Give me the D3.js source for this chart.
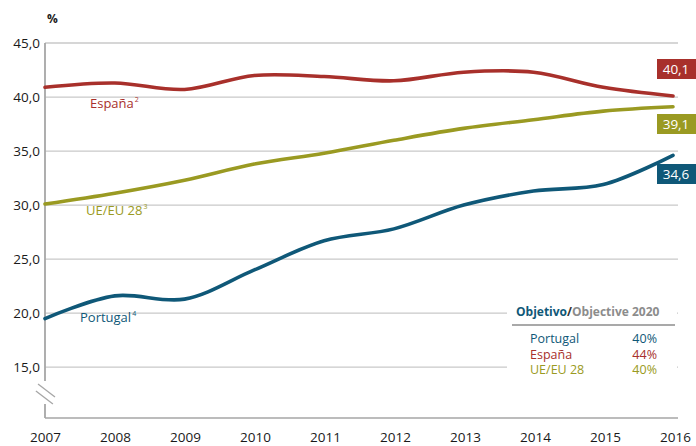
<!DOCTYPE html>
<html>
<head>
<meta charset="utf-8">
<script src="https://cdn.jsdelivr.net/npm/d3@7"></script>
<style>
  body { margin: 0; background: #fff; }
  svg { font-family: "Open Sans", sans-serif; }
</style>
</head>
<body>
<div class="chart"></div>
<script>
const years = [2007, 2008, 2009, 2010, 2011, 2012, 2013, 2014, 2015, 2016];
const portugal = [19.5, 21.6, 21.3, 24.0, 26.7, 27.8, 30.0, 31.3, 31.9, 34.6];
const espana = [40.9, 41.3, 40.7, 42.0, 41.9, 41.5, 42.3, 42.3, 40.9, 40.1];
const eu28 = [30.1, 31.1, 32.3, 33.8, 34.8, 36.0, 37.1, 37.9, 38.7, 39.1];
const yTicks = [15, 20, 25, 30, 35, 40, 45];
const targetNames = ["Portugal", "España", "UE/EU 28"];
const targetValues = ["40%", "44%", "40%"];

const width = 696, height = 446;
const colors = {pt: "#0f5878", es: "#a8302b", eu: "#9a9a22"};

const svg = d3.select(".chart").append("svg")
  .attr("width", width)
  .attr("height", height);

const x = d3.scaleLinear().domain([2007, 2016]).range([45, 673]);
const y = d3.scaleLinear().domain([10.3, 45]).range([418, 43]);

// gridlines
svg.append("g")
  .selectAll("line")
  .data(yTicks)
  .join("line")
  .attr("x1", 45).attr("x2", 678)
  .attr("y1", d => y(d)).attr("y2", d => y(d))
  .attr("stroke", "#c9c9c9")
  .attr("stroke-width", 1.3);

// y tick labels
svg.append("g")
  .selectAll("text")
  .data(yTicks)
  .join("text")
  .attr("x", 40)
  .attr("y", d => y(d) + 5)
  .attr("text-anchor", "end")
  .attr("font-size", 13.5)
  .attr("fill", "#1a1a1a")
  .text(d => d3.format(".1f")(d).replace(".", ","));

svg.append("text")
  .attr("x", 47).attr("y", 23)
  .attr("font-size", 12).attr("font-weight", "bold")
  .attr("fill", "#1a1a1a")
  .text("%");

// x axis
const xAxis = d3.axisBottom(d3.scaleLinear().domain([2007, 2016]).range([45, 675]))
  .tickValues(years)
  .tickFormat(d3.format("d"))
  .tickSize(0)
  .tickPadding(14);

const gx = svg.append("g")
  .attr("transform", `translate(0,${y(10.3)})`)
  .call(xAxis);
gx.select(".domain").attr("stroke", "#a6a6a6").attr("stroke-width", 1.5)
  .attr("d", "M45,0H678");
gx.selectAll("text").attr("font-size", 13.5).attr("fill", "#1a1a1a")
  .attr("font-family", "'Open Sans', sans-serif");

// y axis line
svg.append("line")
  .attr("x1", 45).attr("x2", 45)
  .attr("y1", y(45)).attr("y2", y(10.3))
  .attr("stroke", "#a6a6a6").attr("stroke-width", 1.8);

// axis break mark
svg.append("rect")
  .attr("x", 38).attr("y", 381).attr("width", 14).attr("height", 23)
  .attr("fill", "#fff");
[0, 7].forEach(o => {
  svg.append("line")
    .attr("x1", 38 - o * 0.3).attr("y1", 384 + o)
    .attr("x2", 55 - o * 0.3).attr("y2", 397 + o)
    .attr("stroke", "#a6a6a6").attr("stroke-width", 1.3);
});

// lines
const line = d3.line()
  .x((d, i) => x(years[i]))
  .y(d => y(d))
  .curve(d3.curveCatmullRom.alpha(0.5));

const series = [
  {key: "es", values: espana},
  {key: "eu", values: eu28},
  {key: "pt", values: portugal}
];

svg.append("g")
  .selectAll("path")
  .data(series)
  .join("path")
  .attr("d", d => line(d.values))
  .attr("fill", "none")
  .attr("stroke", d => colors[d.key])
  .attr("stroke-width", 3.6)
  .attr("stroke-linecap", "round");

// series labels
const seriesLabels = [
  {text: "España", sup: "2", key: "es", x: 90, y: 108},
  {text: "UE/EU 28", sup: "3", key: "eu", x: 86, y: 215},
  {text: "Portugal", sup: "4", key: "pt", x: 80, y: 322}
];
seriesLabels.forEach(l => {
  const t = svg.append("text")
    .attr("x", l.x).attr("y", l.y)
    .attr("font-size", 13)
    .attr("fill", colors[l.key])
    .text(l.text);
  t.append("tspan")
    .attr("font-size", 7)
    .attr("dy", -6)
    .attr("dx", 1)
    .text(l.sup);
});

// end value boxes
const endBoxes = [
  {key: "es", value: espana[9], cy: 69},
  {key: "eu", value: eu28[9], cy: 124},
  {key: "pt", value: portugal[9], cy: 174}
];
endBoxes.forEach(b => {
  svg.append("rect")
    .attr("x", 657).attr("y", b.cy - 10)
    .attr("width", 39).attr("height", 20)
    .attr("fill", colors[b.key]);
  svg.append("text")
    .attr("x", 676).attr("y", b.cy + 5)
    .attr("text-anchor", "middle")
    .attr("font-size", 13.5)
    .attr("fill", "#fff")
    .text(d3.format(".1f")(b.value).replace(".", ","));
});

// objective legend
svg.append("rect")
  .attr("x", 507).attr("y", 298)
  .attr("width", 170).attr("height", 82)
  .attr("fill", "#fff");

const title = svg.append("text")
  .attr("x", 516).attr("y", 316)
  .attr("font-size", 12).attr("font-weight", "bold");
title.append("tspan").attr("fill", colors.pt).text("Objetivo");
title.append("tspan").attr("fill", "#333").text("/");
title.append("tspan").attr("fill", "#8c8c8c").text("Objective 2020");

svg.append("line")
  .attr("x1", 512).attr("x2", 675)
  .attr("y1", 325).attr("y2", 325)
  .attr("stroke", "#8c8c8c").attr("stroke-width", 1.5);

const rowColors = [colors.pt, colors.es, colors.eu];
targetNames.forEach((n, i) => {
  svg.append("text")
    .attr("x", 530).attr("y", 343 + i * 15.5)
    .attr("font-size", 12.5)
    .attr("fill", rowColors[i])
    .text(n);
  svg.append("text")
    .attr("x", 657).attr("y", 343 + i * 15.5)
    .attr("text-anchor", "end")
    .attr("font-size", 12.5)
    .attr("fill", rowColors[i])
    .text(targetValues[i]);
});
</script>
</body>
</html>
